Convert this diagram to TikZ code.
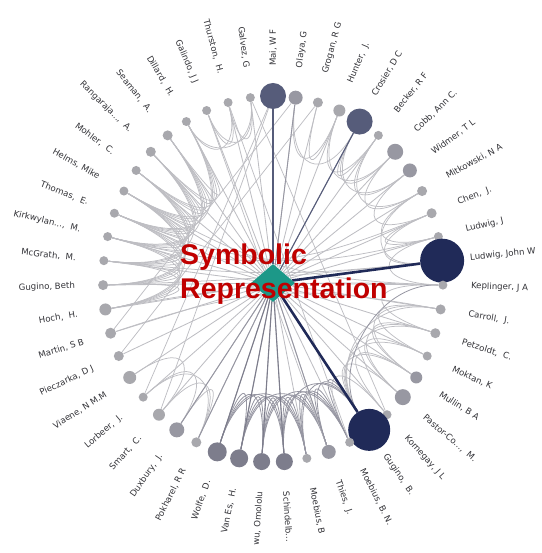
\documentclass[tikz,border=0pt]{standalone}
\usepackage{fontspec}
\setmainfont{DejaVu Sans}
\newfontfamily\titlefont{Liberation Sans}
\usetikzlibrary{shapes.geometric,backgrounds,calc}
\definecolor{hubteal}{RGB}{28,152,136}
\definecolor{navyblue}{RGB}{32,42,88}
\definecolor{slate}{RGB}{86,92,122}
\definecolor{midgray}{RGB}{125,125,140}
\definecolor{nodegray}{RGB}{168,168,173}
\definecolor{nodegrayd}{RGB}{152,152,162}
\definecolor{edgegray}{RGB}{190,190,195}
\definecolor{arcgray}{RGB}{150,150,162}
\definecolor{labelgray}{RGB}{50,50,55}
\definecolor{titlered}{RGB}{192,0,0}
\tikzset{
  author/.style={circle, inner sep=0pt, minimum size=2*#1},
  lbl/.style={font=\fontsize{8.6}{10}\selectfont, text=labelgray, inner sep=0pt},
  spoke/.style={draw=edgegray, line width=0.85pt},
  coedge/.style={draw=edgegray, line width=0.75pt},
  darkedge/.style={draw=arcgray, line width=0.8pt}
}
\newcommand\coauth[4][coedge]{\draw[#1] (n#2) .. controls ($(ctr)!#4!(n#2)$) and ($(ctr)!#4!(n#3)$) .. (n#3);}
\begin{document}
\begin{tikzpicture}[x=1pt, y=1pt]
  \useasboundingbox (0,0) rectangle (541,553);
  \coordinate (ctr) at (273,274);
  \foreach \i/\r/\c/\t in {
      1/13/slate/{Mai, W F}, 2/7/nodegrayd/{Olaya, G}, 3/5/nodegray/{Grogan, R G},
      4/6/nodegray/{Hunter,~ J.}, 5/13/slate/{Crosier, D C}, 6/4.5/nodegray/{Becker, R F},
      7/8/nodegrayd/{Cobb, Ann C.}, 8/7/nodegrayd/{Widmer, T L}, 9/5/nodegray/{Mitkowski, N A},
      10/5/nodegray/{Chen,~ J.}, 11/4.5/nodegray/{Ludwig, J}, 12/22/navyblue/{Ludwig, John W},
      13/4.5/nodegray/{Keplinger, J A}, 14/5/nodegray/{Carroll,~ J.}, 15/5/nodegray/{Petzoldt,~ C.},
      16/4.5/nodegray/{Moktan, K}, 17/6/nodegrayd/{Mullin, B A}, 18/8/nodegrayd/{Pastor-Co...,~ M.},
      19/4.5/nodegray/{Kornegay, J L}, 20/21/navyblue/{Gugino,~ B.}, 21/4.5/nodegray/{Moebius, B. N.},
      22/7/nodegrayd/{Thies,~ J.}, 23/4.5/nodegray/{Moebius, B}, 24/8.5/midgray/{Schindelb...},
      25/8.5/midgray/{wu, Omololu}, 26/9/midgray/{Van Es,~ H.}, 27/9.5/midgray/{Wolfe,~ D.},
      28/5/nodegray/{Pokharel, R R}, 29/7.5/nodegrayd/{Duxbury,~ J.}, 30/6/nodegray/{Smart,~ C.},
      31/4.5/nodegray/{Lorbeer,~ J.}, 32/6.5/nodegray/{Viaene, N M.M}, 33/5/nodegray/{Pieczarka, D J},
      34/5.5/nodegray/{Martin, S B}, 35/6/nodegray/{Hoch,~ H.}, 36/5/nodegray/{Gugino, Beth},
      37/4.5/nodegray/{McGrath,~ M.}, 38/4.5/nodegray/{Kirkwylan...,~ M.}, 39/4.5/nodegray/{Thomas,~ E.},
      40/4.5/nodegray/{Helms, Mike}, 41/4.5/nodegray/{Mohler,~ C.}, 42/5/nodegray/{Rangaraja...,~ A.},
      43/5/nodegray/{Seaman,~ A.}, 44/4.5/nodegray/{Dillard,~ H.}, 45/4.5/nodegray/{Galindo, J J},
      46/4.5/nodegray/{Thurston,~ H.}, 47/4.5/nodegray/{Galvez, G}} {
    \pgfmathsetmacro\a{90-(\i-1)*7.659574}
    \pgfmathtruncatemacro\rside{\a>-90}
    \node[author=\r, fill=\c] (n\i) at ({273+170*cos(\a)},{274+183*sin(\a)}) {};
    \ifnum\rside=1
      \node[lbl, anchor=west, rotate=\a] (l\i) at ({273+198*cos(\a)},{274+213*sin(\a)}) {\t};
    \else
      \node[lbl, anchor=east, rotate=\a+180] (l\i) at ({273+198*cos(\a)},{274+213*sin(\a)}) {\t};
    \fi
  }
  \node[diamond, fill=hubteal, inner sep=0pt, minimum width=44pt, minimum height=38pt, shape aspect=1.15] (hub) at (273,270) {};
  \begin{pgfonlayer}{background}
    \foreach \i in {1,...,47} {\draw[spoke] (hub) -- (n\i);}
    % co-author arcs
    \foreach \i in {35,...,43} {\foreach \k in {1,...,5} {
      \pgfmathtruncatemacro\j{\i+\k}
      \ifnum\j<45 \coauth{\i}{\j}{0.42}\fi
    }}
    \foreach \i/\j in {44/46, 45/47, 45/46, 46/47, 44/47} {\coauth{\i}{\j}{0.72}}
    \foreach \i/\j in {2/4, 3/4, 2/5, 4/6, 4/7, 5/6, 5/7, 5/8, 6/8, 6/9, 7/9, 8/10, 9/11, 10/11, 9/12, 10/12, 11/13} {\coauth{\i}{\j}{0.6}}
    \foreach \i/\j in {13/15, 14/16, 14/17, 15/17, 15/18, 16/18, 17/19, 18/20, 14/20, 15/20, 16/20, 17/20, 19/21} {\coauth{\i}{\j}{0.55}}
    \foreach \i in {20,...,26} {\foreach \k in {1,...,4} {
      \pgfmathtruncatemacro\j{\i+\k}
      \ifnum\j<28 \coauth[darkedge]{\i}{\j}{0.55}\fi
    }}
    \foreach \i/\j in {28/30, 29/31, 28/31, 30/32, 28/29} {\coauth{\i}{\j}{0.62}}
    \coauth[darkedge]{13}{20}{0.6}
    % long chords
    \foreach \i/\j in {36/12, 37/12, 35/13, 39/11, 34/14, 38/10, 40/13} {\coauth{\i}{\j}{0.15}}
    \foreach \i/\j in {1/30, 1/31, 46/21, 45/22, 47/19, 3/33, 2/34} {\draw[coedge] (n\i) -- (n\j);}
    % weighted spokes
    \draw[slate, line width=1.3pt] (hub) -- (n1);
    \draw[slate, line width=1.1pt] (hub) -- (n5);
    \draw[arcgray, line width=0.9pt] (hub) -- (n2);
    \foreach \i in {24,...,27} {\draw[midgray, line width=1.1pt] (hub) -- (n\i);}
    \foreach \i in {22,28,29} {\draw[arcgray, line width=0.9pt] (hub) -- (n\i);}
    \draw[navyblue, line width=2.6pt] (hub) -- (n12);
    \draw[navyblue, line width=2.6pt] (hub) -- (n20);
  \end{pgfonlayer}
  \node[anchor=base west, inner sep=0pt, text=titlered, font=\titlefont\bfseries\fontsize{28.5}{34}\selectfont] (title1) at (180,288) {Symbolic};
  \node[anchor=base west, inner sep=0pt, text=titlered, font=\titlefont\bfseries\fontsize{28.5}{34}\selectfont] (title2) at (180,254) {Representation};
\end{tikzpicture}
\end{document}
